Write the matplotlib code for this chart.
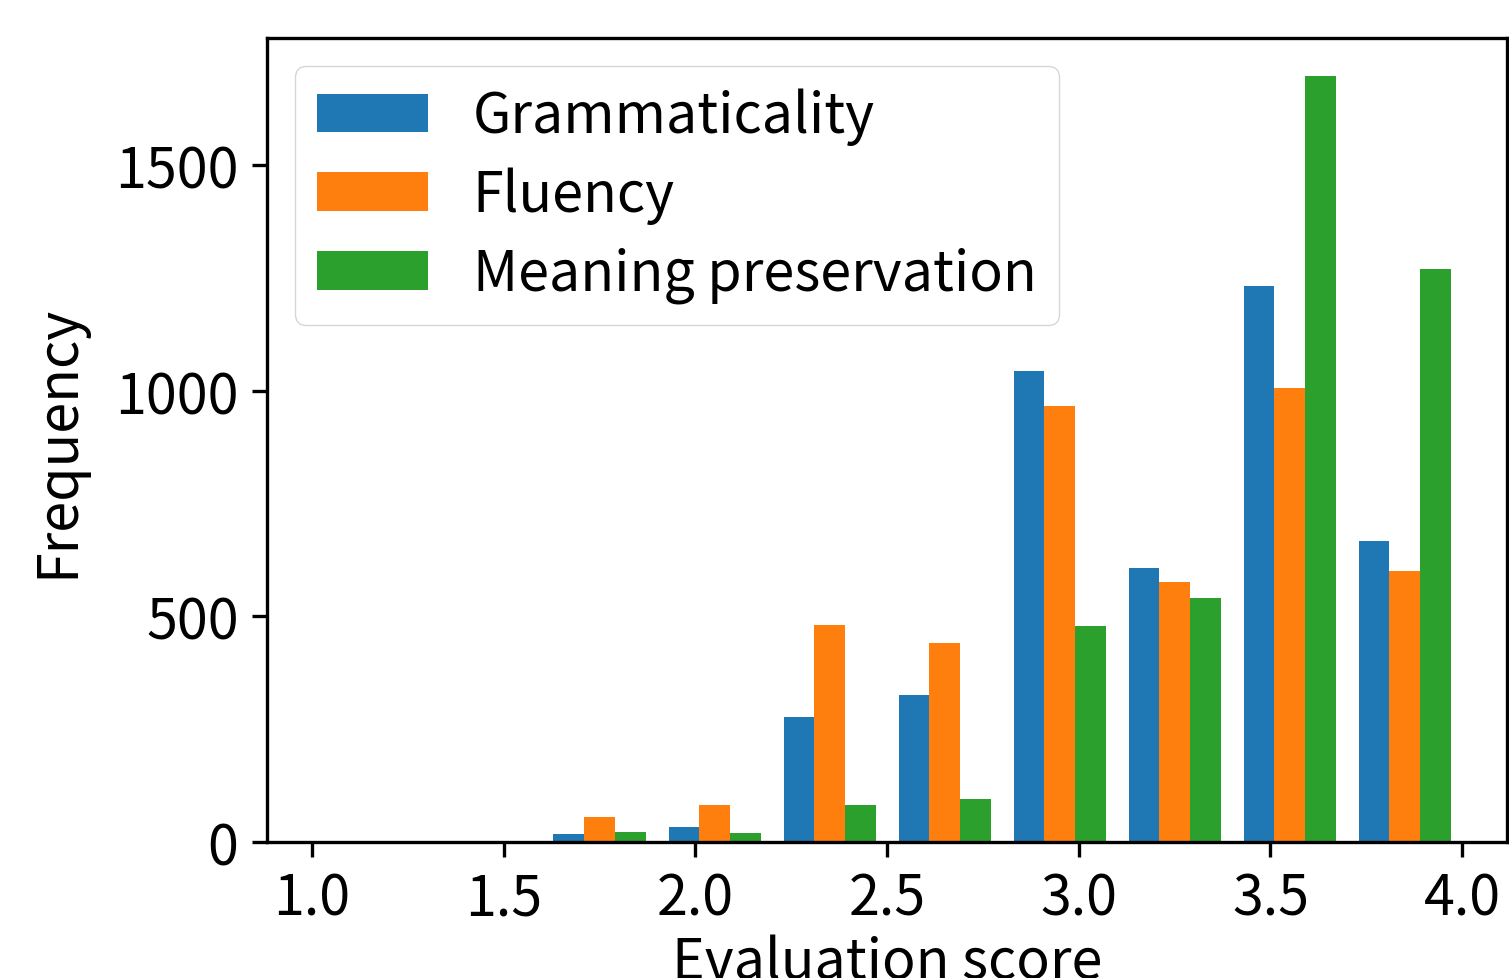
import matplotlib
matplotlib.use("Agg")
import matplotlib.pyplot as plt
import numpy as np

plt.rcParams['font.family'] = ['Noto Sans CJK JP', 'DejaVu Sans']

# Histogram bins (10 bins from 1.0 to 4.0)
bin_edges = [1.0, 1.3, 1.6, 1.9, 2.2, 2.5, 2.8, 3.1, 3.4, 3.7, 4.0]
labels = ["Grammaticality", "Fluency", "Meaning preservation"]

grammaticality = [0, 0, 18, 34, 278, 326, 1044, 607, 1232, 667]
fluency = [0, 0, 56, 83, 481, 441, 966, 576, 1006, 600]
meaning = [0, 0, 23, 21, 82, 95, 479, 541, 1697, 1270]

centers = [(a + b) / 2 for a, b in zip(bin_edges[:-1], bin_edges[1:])]

fig = plt.figure(figsize=(15.09, 9.79), dpi=100)
ax = fig.add_axes([0.1770, 0.1389, 0.8217, 0.8213])

ax.hist([centers, centers, centers], bins=bin_edges,
        weights=[grammaticality, fluency, meaning], label=labels)

fs = 40
ax.set_xlabel("Evaluation score", fontsize=fs)
ax.set_ylabel("Frequency", fontsize=fs)
ax.yaxis.set_label_coords(-0.146, 0.5)
ax.tick_params(axis='both', labelsize=fs, length=10.5, width=2.4, pad=10)
for s in ax.spines.values():
    s.set_linewidth(2.4)
ax.set_yticks([0, 500, 1000, 1500])
ax.legend(loc='upper left', fontsize=fs, labelspacing=0.38)

fig.savefig("out.png", dpi=100)
